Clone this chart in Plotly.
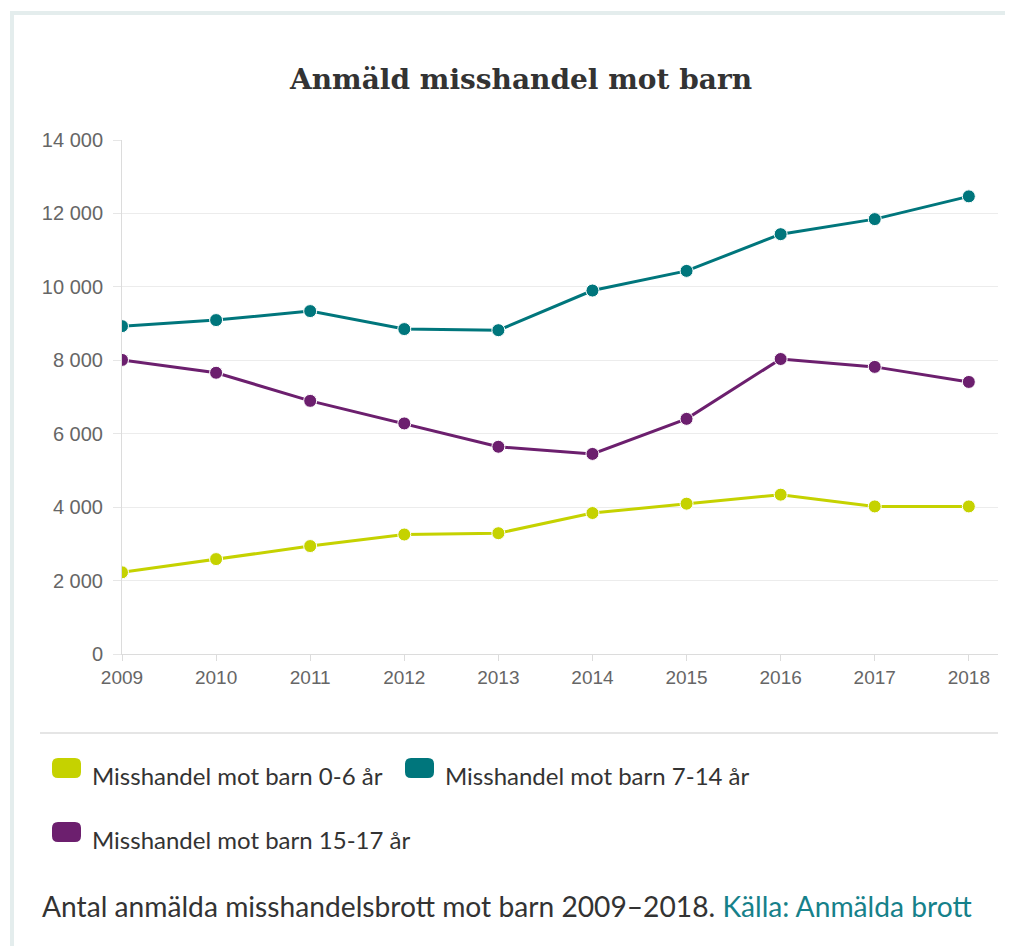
import plotly.graph_objects as go

# Data
years = [2009, 2010, 2011, 2012, 2013, 2014, 2015, 2016, 2017, 2018]
barn_0_6 = [2225, 2585, 2940, 3255, 3290, 3840, 4095, 4340, 4020, 4020]
barn_7_14 = [8930, 9095, 9340, 8850, 8820, 9900, 10435, 11435, 11845, 12465]
barn_15_17 = [8010, 7660, 6895, 6280, 5645, 5450, 6405, 8035, 7820, 7410]

series_names = ["Misshandel mot barn 0-6 år", "Misshandel mot barn 7-14 år", "Misshandel mot barn 15-17 år"]
series_colors = ["#c5d200", "#00767c", "#6c1f6e"]
series_values = [barn_0_6, barn_7_14, barn_15_17]

# the page body adds an 8px margin, so work in screen pixels and shift
OFF = 8
W, H = 1013 - OFF, 946 - OFF
L, R, T, B = 122 - OFF, 998 - OFF, 140 - OFF, 654 - OFF  # plot area


def px(x):
    return (x - OFF - L) / (R - L)


def py(y):
    return (B - (y - OFF)) / (B - T)


fig = go.Figure()

for name, color, vals in zip(series_names, series_colors, series_values):
    fig.add_trace(go.Scatter(
        x=years, y=vals, mode="lines+markers", name=name,
        line=dict(color=color, width=3),
        marker=dict(size=13, color=color, line=dict(color="white", width=1)),
        showlegend=False,
    ))

shapes = []
annotations = []

# card border (left and top edges only)
shapes.append(dict(type="path", xref="paper", yref="paper",
                   path=f"M {px(12)},{py(960)} L {px(12)},{py(13)} L {px(1013)},{py(13)}",
                   line=dict(color="#e4eded", width=4), layer="below"))
# separator under the axis
shapes.append(dict(type="line", xref="paper", yref="paper",
                   x0=px(40), x1=px(998), y0=py(733), y1=py(733),
                   line=dict(color="#dcdcdc", width=1.5)))

# legend (swatches + labels)
legend_pos = [(52, 768), (405, 768), (52, 832)]
for (lx, ly), name, color in zip(legend_pos, series_names, series_colors):
    x0, x1 = px(lx), px(lx + 29)
    y0, y1 = py(ly + 10), py(ly - 10)
    rx = 6 / (R - L)
    ry = 6 / (B - T)
    path = (f"M {x0 + rx},{y1} L {x1 - rx},{y1} Q {x1},{y1} {x1},{y1 - ry} "
            f"L {x1},{y0 + ry} Q {x1},{y0} {x1 - rx},{y0} L {x0 + rx},{y0} "
            f"Q {x0},{y0} {x0},{y0 + ry} L {x0},{y1 - ry} Q {x0},{y1} {x0 + rx},{y1} Z")
    shapes.append(dict(type="path", xref="paper", yref="paper", path=path,
                       fillcolor=color, line=dict(width=0)))
    annotations.append(dict(x=px(lx + 38), y=py(ly + 7), xref="paper", yref="paper",
                            text=name, showarrow=False, xanchor="left", yanchor="middle",
                            font=dict(family="Lato", size=24, color="#333333")))

# title
annotations.append(dict(x=px(520), y=py(80), xref="paper", yref="paper",
                        text="<b>Anmäld misshandel mot barn</b>", showarrow=False,
                        xanchor="center", yanchor="middle",
                        font=dict(family="DejaVu Serif", size=28, color="#333333")))

# caption
annotations.append(dict(x=px(40), y=py(906), xref="paper", yref="paper",
                        text="Antal anmälda misshandelsbrott mot barn 2009–2018. "
                             "<span style='color:#16818a'>Källa: Anmälda brott</span>",
                        showarrow=False, xanchor="left", yanchor="middle",
                        font=dict(family="Lato", size=28.2, color="#333333")))

fig.update_layout(
    width=W, height=H,
    margin=dict(l=L, r=W - R, t=T, b=H - B, pad=0),
    paper_bgcolor="white", plot_bgcolor="white",
    separators=", ",
    shapes=shapes,
    annotations=annotations,
    xaxis=dict(
        range=[2009, 2018.31], tickmode="array", tickvals=years,
        showgrid=False, zeroline=False,
        showline=True, linecolor="#dcdcdc", linewidth=1,
        ticks="outside", ticklen=6, tickcolor="#dcdcdc",
        tickfont=dict(family="Liberation Sans", size=19, color="#666666"),
    ),
    yaxis=dict(
        range=[0, 14000], dtick=2000, tickformat=",d",
        showgrid=True, gridcolor="#ececec", gridwidth=1,
        zeroline=False, showline=True, linecolor="#dcdcdc", linewidth=1,
        ticks="outside", ticklen=8, tickcolor="#e6e6e6", ticklabelstandoff=6,
        tickfont=dict(family="Liberation Sans", size=20, color="#666666"),
    ),
)

fig.write_html("out.html")
